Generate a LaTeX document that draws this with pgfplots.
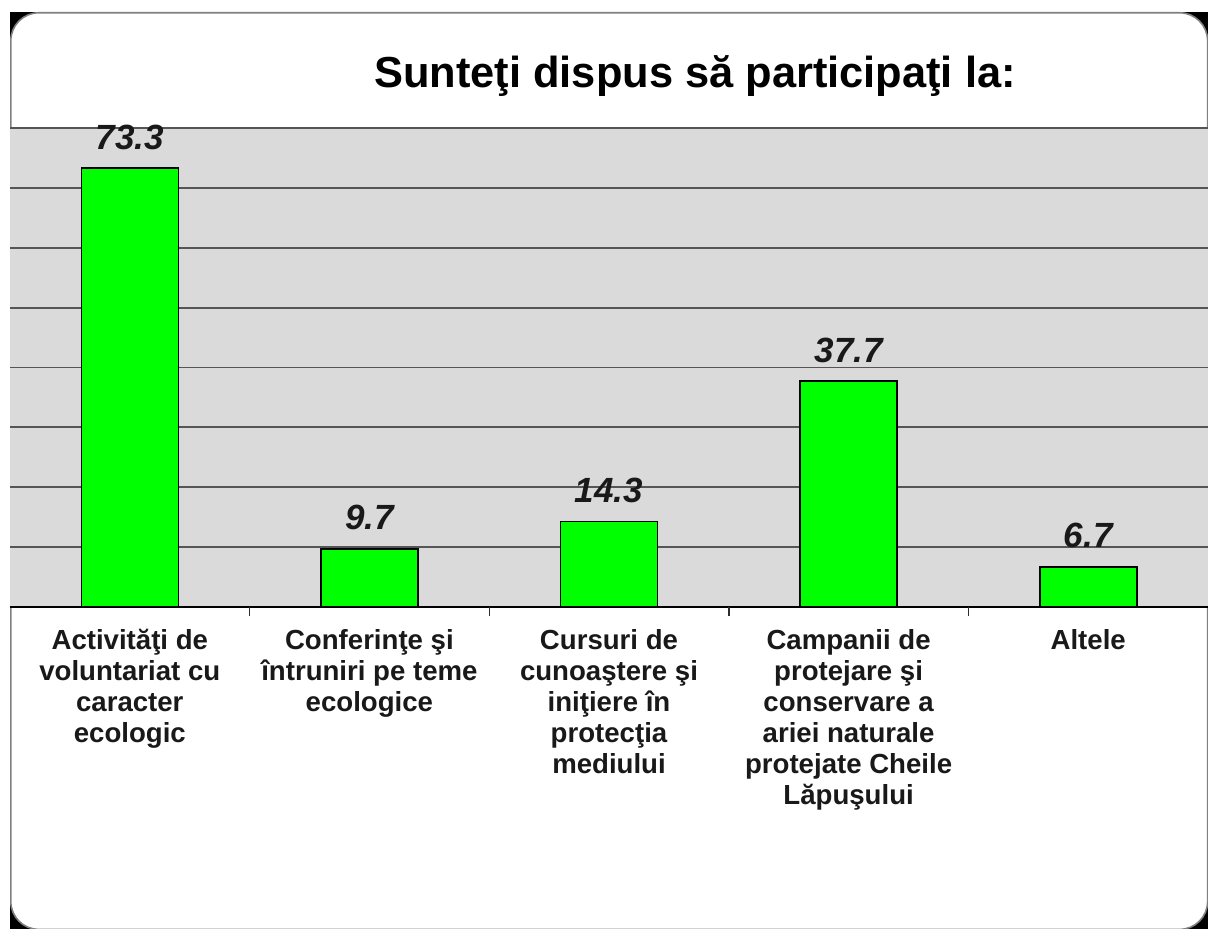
\documentclass[border=0pt]{standalone}
\usepackage{fontspec}
\setmainfont{Liberation Sans}
\usepackage{pgfplots}
\pgfplotsset{compat=1.18}
\definecolor{marble}{RGB}{218,218,218}
\definecolor{bargreen}{RGB}{0,255,0}
\definecolor{gridc}{RGB}{85,85,85}
\begin{document}
\begin{tikzpicture}
\path[use as bounding box] (0pt,0pt) rectangle (604pt,464.5pt);
\fill[white] (0pt,0pt) rectangle (604pt,464.5pt);
\fill[black] (5pt,0pt) rectangle (604pt,458.5pt);
\filldraw[fill=white, draw=gray, line width=0.8pt, rounded corners=14pt] (5.4pt,-0.2pt) rectangle (603.8pt,458.1pt);
\node[anchor=base, font=\bfseries\fontsize{21.7}{26}\selectfont] at (347.5pt,420.5pt) {Sunteţi dispus să participaţi la:};
\begin{axis}[
  at={(5pt,161pt)}, anchor=south west,
  width=599pt, height=239.5pt, scale only axis,
  xmin=-0.5, xmax=4.5, ymin=0, ymax=80,
  axis x line=bottom, axis y line=left,
  x axis line style={black, line width=0.9pt, -},
  y axis line style={draw=none},
  axis background/.style={fill=marble},
  ytick={0,10,...,80}, yticklabels={}, ymajorgrids,
  major tick length=0pt,
  grid style={gridc, line width=0.9pt},
  xtick={0,1,2,3,4},
  xticklabels={
    {Activităţi de\\voluntariat cu\\caracter\\ecologic},
    {Conferinţe şi\\întruniri pe teme\\ecologice},
    {Cursuri de\\cunoaştere şi\\iniţiere în\\protecţia\\mediului},
    {Campanii de\\protejare şi\\conservare a\\ariei naturale\\protejate Cheile\\Lăpuşului},
    {Altele}},
  xticklabel style={align=center, font=\bfseries\fontsize{13.8}{15.5}\selectfont, text=black!90, yshift=-7.5pt},
  extra x ticks={0.5,1.5,2.5,3.5},
  extra x tick labels={},
  extra x tick style={xtick align=outside, major tick length=4.5pt, tick style={draw=gray!35!black, line width=0.7pt}},
  clip=false,
]
\addplot[ybar, bar width=48.5pt, fill=bargreen, draw=black, line width=0.8pt,
  point meta=explicit symbolic,
  nodes near coords={\pgfplotspointmeta},
  nodes near coords style={font=\bfseries\itshape\fontsize{17.5}{17.5}\selectfont, anchor=base, yshift=9.5pt, text=black!90}]
  coordinates {(0,73.3) [73.3] (1,9.7) [9.7] (2,14.3) [14.3] (3,37.7) [37.7] (4,6.7) [6.7]};
\end{axis}
\end{tikzpicture}
\end{document}
